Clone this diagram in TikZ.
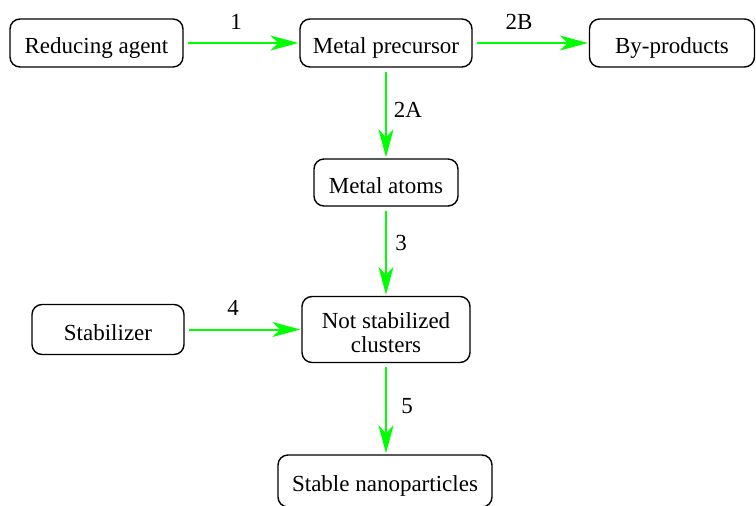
\documentclass[tikz,border=0pt]{standalone}
\usepackage{fontspec}
\setmainfont{Liberation Serif}
\usetikzlibrary{arrows.meta}
\begin{document}
\begin{tikzpicture}[x=1pt,y=-1pt,
  box/.style={draw=black, line width=1.4pt, rounded corners=10pt, fill=white,
    align=center, inner sep=0pt, text height=21pt, text depth=0pt,
    font=\rmfamily\fontsize{23}{24}\selectfont},
  flow/.style={draw={rgb,255:red,0;green,255;blue,0}, line width=2pt,
    -{Stealth[length=28pt,width=15pt,inset=8pt]},
    shorten <=4pt, shorten >=1pt},
  lbl/.style={font=\rmfamily\fontsize{23}{24}\selectfont, inner sep=0pt}]
  \useasboundingbox (0,0) rectangle (756,506);
  % main nodes
  \node[box, minimum width=173pt, minimum height=48pt] (ra) at (96.5,43) {Reducing agent};
  \node[box, minimum width=172pt, minimum height=48pt] (mp) at (386,43) {Metal precursor};
  \node[box, minimum width=165pt, minimum height=48pt] (bp) at (672,43) {By-products};
  \node[box, minimum width=144pt, minimum height=47pt] (ma) at (386,182.5) {Metal atoms};
  \node[box, minimum width=152pt, minimum height=50pt] (st) at (108,329.5) {Stabilizer};
  \node[box, minimum width=168pt, minimum height=66pt, text height=46pt]
    (nsc) at (386,329.5) {Not stabilized\\clusters};
  \node[box, minimum width=214pt, minimum height=52pt] (sn) at (385,481) {Stable nanoparticles};
  % reaction steps
  \draw[flow] (ra) -- (mp);
  \draw[flow] (mp) -- (bp);
  \draw[flow] (mp) -- (ma);
  \draw[flow] (ma) -- (nsc);
  \draw[flow] (st) -- (nsc);
  \draw[flow] (nsc.south) -- (nsc.south |- sn.north);
  % step labels
  \node[lbl] (l1) at (236,22) {1};
  \node[lbl] (l2b) at (519,22) {2B};
  \node[lbl] (l2a) at (408,110) {2A};
  \node[lbl] (l3) at (401,243) {3};
  \node[lbl] (l4) at (233,308) {4};
  \node[lbl] (l5) at (407,406) {5};
\end{tikzpicture}
\end{document}
